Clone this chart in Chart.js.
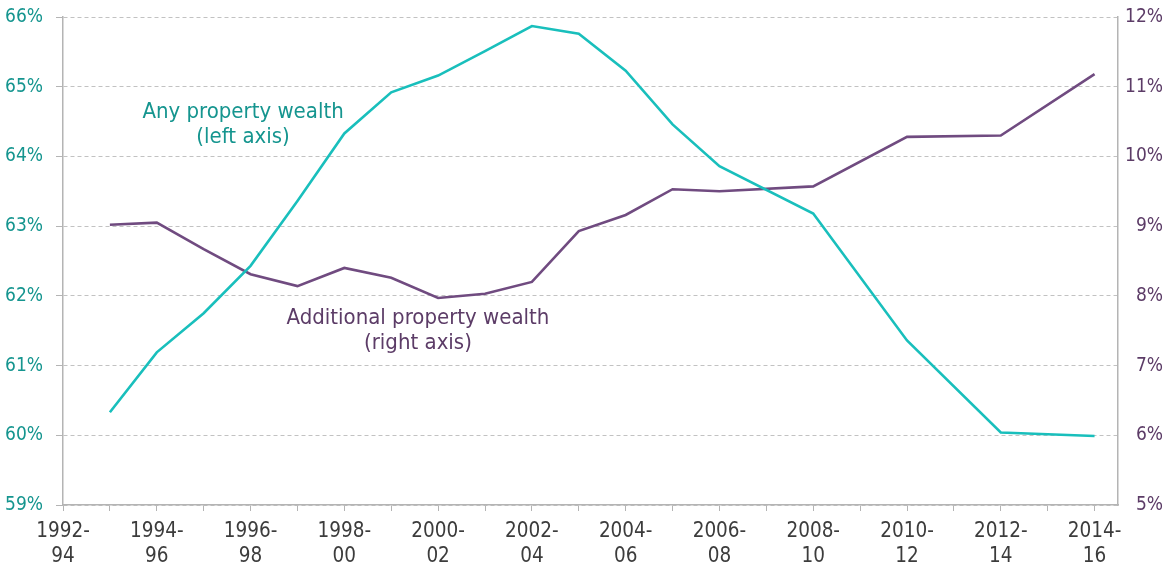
<!DOCTYPE html>
<html>
<head>
<meta charset="utf-8">
<title>Property wealth</title>
<script src="https://cdn.jsdelivr.net/npm/chart.js@4.4.0/dist/chart.umd.min.js"></script>
<style>
  html, body { margin: 0; padding: 0; background: #fff; }
</style>
</head>
<body>
<canvas id="wealthChart" width="1176" height="569"></canvas>
<script>
// three-year periods, one per x position
const periods = [
    '1992-94', '1993-95', '1994-96', '1995-97', '1996-98', '1997-99', '1998-00', '1999-01',
    '2000-02', '2001-03', '2002-04', '2003-05', '2004-06', '2005-07', '2006-08', '2007-09',
    '2008-10', '2009-11', '2010-12', '2011-13', '2012-14', '2013-15', '2014-16'
];

// % of people with any property wealth (left axis)
const anyProperty = [
    null, 60.33, 61.19, 61.75, 62.43, 63.36, 64.33, 64.92,
    65.16, 65.51, 65.87, 65.76, 65.23, 64.46, 63.86, null,
    63.18, null, 61.36, null, 60.04, null, 59.99
];

// % of people with additional property wealth (right axis)
const additionalProperty = [
    null, 9.02, 9.05, 8.67, 8.31, 8.14, 8.40, 8.26,
    7.97, 8.03, 8.20, 8.93, 9.16, 9.53, 9.50, null,
    9.57, null, 10.28, null, 10.30, null, 11.18
];

const leftTicks = [59, 66];
const rightTicks = [5, 12];

const fontFamily = '"DejaVu Sans Condensed", "DejaVu Sans", sans-serif';
const tealLine = '#19BFBC';
const tealText = '#15958F';
const purpleLine = '#704B80';
const purpleText = '#5C3C67';
const axisGrey = '#B4B4B4';

function toPoints(values) {
    return values.map((v, i) => ({ x: i, y: v }));
}

// series labels placed in data space
const notes = [
    { lines: ['Any property wealth', '(left axis)'], x: 3.84, y: 64.64, axis: 'yLeft', color: tealText },
    { lines: ['Additional property wealth', '(right axis)'], x: 7.57, y: 7.68, axis: 'yRight', color: purpleText }
];

const notesPlugin = {
    id: 'notes',
    afterDatasetsDraw(chart) {
        const ctx = chart.ctx;
        ctx.save();
        ctx.font = '22px ' + fontFamily;
        ctx.textAlign = 'center';
        ctx.textBaseline = 'middle';
        notes.forEach(note => {
            const px = chart.scales.x.getPixelForValue(note.x);
            const py = chart.scales[note.axis].getPixelForValue(note.y);
            ctx.fillStyle = note.color;
            note.lines.forEach((line, i) => ctx.fillText(line, px, py + i * 25));
        });
        ctx.restore();
    }
};

// fixed axis box, no extra vertical room for the tick labels
function fixWidth(width) {
    return scale => {
        scale.width = width;
        scale.paddingTop = 0;
        scale.paddingBottom = 0;
    };
}

new Chart(document.getElementById('wealthChart'), {
    type: 'line',
    data: {
        datasets: [{
            label: 'Any property wealth',
            data: toPoints(anyProperty),
            yAxisID: 'yLeft',
            borderColor: tealLine,
            borderWidth: 2.6,
            pointRadius: 0,
            tension: 0,
            spanGaps: true
        }, {
            label: 'Additional property wealth',
            data: toPoints(additionalProperty),
            yAxisID: 'yRight',
            borderColor: purpleLine,
            borderWidth: 2.6,
            pointRadius: 0,
            tension: 0,
            spanGaps: true
        }]
    },
    options: {
        responsive: false,
        animation: false,
        layout: { padding: { top: 17, left: 0, right: 13, bottom: 0 } },
        plugins: {
            legend: { display: false },
            tooltip: { enabled: false }
        },
        scales: {
            x: {
                type: 'linear',
                min: 0,
                max: periods.length - 0.5,
                afterFit: scale => { scale.height = 64; },
                grid: {
                    drawOnChartArea: false,
                    drawTicks: true,
                    tickLength: 6,
                    tickColor: axisGrey
                },
                border: { color: axisGrey, width: 1.5 },
                ticks: {
                    stepSize: 1,
                    includeBounds: false,
                    autoSkip: false,
                    maxRotation: 0,
                    padding: 8,
                    color: '#3C3C3C',
                    font: { family: fontFamily, size: 20.5, lineHeight: 1.22 },
                    callback: value => {
                        if (!Number.isInteger(value) || value % 2 !== 0) return '';
                        const p = periods[value];
                        return p ? [p.slice(0, 5), p.slice(5)] : '';
                    }
                }
            },
            yLeft: {
                position: 'left',
                min: leftTicks[0],
                max: leftTicks[1],
                afterFit: fixWidth(63),
                grid: {
                    color: '#C2C2C2',
                    drawTicks: true,
                    tickLength: 7,
                    tickColor: axisGrey,
                    tickBorderDash: []
                },
                border: { color: axisGrey, width: 1.5, dash: [4, 3] },
                ticks: {
                    stepSize: 1,
                    padding: 13,
                    color: tealText,
                    font: { family: fontFamily, size: 19 },
                    callback: value => value + '%'
                }
            },
            yRight: {
                position: 'right',
                min: rightTicks[0],
                max: rightTicks[1],
                afterFit: fixWidth(45),
                grid: { drawOnChartArea: false, drawTicks: false },
                border: { color: axisGrey, width: 1.5 },
                ticks: {
                    stepSize: 1,
                    padding: 8,
                    crossAlign: 'far',
                    color: purpleText,
                    font: { family: fontFamily, size: 19 },
                    callback: value => value + '%'
                }
            }
        }
    },
    plugins: [notesPlugin]
});
</script>
</body>
</html>
